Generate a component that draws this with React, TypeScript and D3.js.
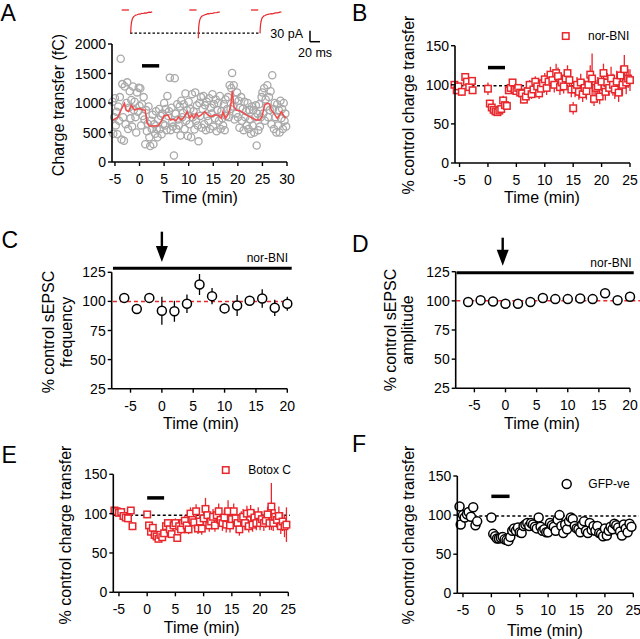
import React from "react";
import * as d3 from "d3";

const RED = "#e8262b";
const FONT = "'Liberation Sans', Arial, Helvetica, sans-serif";

// ---------------- Panel A data ----------------
const aStart = -5.5; // min, first sample
const aStep = 1 / 6; // 10-s sampling
const aCharge = [
  1020, 480, 760,
  1080, 620, 850, 470, 940, 700,
  1100, 1750, 380, 1320, 760, 360,
  1280, 640, 1000, 1350, 560, 920,
  1200, 740, 1050, 600, 1280, 880,
  1020, 760, 500, 1180, 850, 1260,
  950, 1250, 620, 980, 780, 1100,
  720, 300, 880, 520, 650, 940,
  420, 270, 700, 560, 800, 300,
  640, 480, 860, 560, 420, 720,
  900, 560, 780, 470, 820, 640,
  1000, 620, 900, 540, 1120, 780,
  860, 1430, 540, 920, 680, 600,
  110, 1420, 820, 560, 980, 720,
  620, 940, 450, 1040, 760, 830,
  980, 560, 1160, 700, 880, 440,
  1020, 640, 900, 420, 1150, 760,
  860, 550, 1180, 700, 960, 620,
  350, 1000, 780, 1100, 580, 900,
  1120, 640, 960, 540, 1020, 780,
  700, 1080, 560, 920, 820, 1150,
  600, 980, 740, 1060, 520, 880,
  1000, 700, 1120, 560, 860, 740,
  620, 980, 540, 1060, 780, 900,
  1100, 760, 1300, 900, 1250, 1510,
  940, 1300, 720, 1060, 820, 1180,
  760, 1040, 580, 920, 1100, 700,
  900, 540, 1020, 760, 860, 620,
  1000, 560, 880, 720, 480, 940,
  620, 880, 500, 760, 960, 280,
  820, 540, 980, 600, 760, 1100,
  1180, 820, 1250, 700, 1060, 940,
  1300, 760, 1100, 880, 1200, 640,
  1470, 900, 560, 1000, 760, 500,
  980, 620, 880, 500, 1040, 740,
  900, 560, 1000, 700, 820, 600,
];
const aMeanTime = [
  -5.44, -4.42, -3.6, -3.06, -2.72, -2.24, -1.7, -1.02, 0, 0.67, 1.14, 1.55, 2.03, 3.05, 3.73,
  4.4, 4.95, 5.76, 6.31, 6.78, 7.46, 7.94, 8.48, 9.02, 9.7, 10.18, 10.65, 11.06, 11.53, 12.02,
  12.55, 13.24, 13.91, 14.59, 15.27, 15.95, 16.63, 16.97, 17.44, 17.98, 18.53, 18.87, 19.21,
  19.69, 20.37, 21.04, 21.72, 22.4, 23.08, 23.75, 24.44, 24.91, 25.46, 25.99, 26.48, 26.8,
  27.35, 28.02, 28.51, 28.84, 29.39, 29.86,
];
const aMeanCharge = [
  712, 757, 910, 994, 881, 853, 966, 881, 910, 881, 881, 655, 610, 610, 610,
  684, 780, 797, 712, 723, 701, 768, 712, 757, 853, 740, 797, 740, 825, 768,
  797, 853, 797, 768, 797, 797, 740, 853, 740, 797, 938, 1209, 938,
  881, 870, 836, 797, 768, 740, 712, 712, 768, 966, 994, 983, 881,
  825, 740, 797, 853, 780, 740,
];
const aTicksX = [-5, 0, 5, 10, 15, 20, 25, 30];
const aTicksY = [0, 500, 1000, 1500, 2000];
const aDrug = [0.5, 4];
const aDrugLevel = 1630;

// example traces (ms, pA)
const traceMs = [0, 0.5, 1, 2, 3, 4, 6, 8, 10, 13, 16, 19, 22, 25, 28, 31, 34, 37, 40, 43];
const trace1 = [-63, -48, -40, -31, -26, -22, -18, -16, -14, -13, -11, -11.5, -9, -9.5, -8, -8.5, -7, -6, -6.5, -5];
const trace2 = [-77, -55, -44, -33, -27, -23, -19, -16, -15, -13, -12, -10, -10.5, -9, -9.5, -8, -7.5, -7, -6, -6];
const trace3 = [-63, -50, -41, -32, -27, -22, -19, -16, -15, -13, -12, -11, -10, -10.5, -9, -8, -8, -7, -6, -5.5];
const preMs = [-18, -3.5];

// ---------------- Panel B data ----------------
const bTime = [-5.9, -5.5, -5.2, -4.6, -4.0, -3.7, -3.3, -2.8, -2.7,
  0, 0.33, 0.67, 1, 1.33, 1.67, 2, 2.33, 2.67, 3, 3.33, 3.67, 4, 4.33, 4.67, 5, 5.33, 5.67, 6, 6.33, 6.67,
  7, 7.33, 7.67, 8, 8.33, 8.67, 9, 9.33, 9.67, 10, 10.33, 10.67, 11, 11.33, 11.67, 12, 12.33, 12.67,
  13, 13.33, 13.67, 14, 14.33, 14.67, 15, 15.33, 15.67, 16, 16.33, 16.67, 17, 17.33, 17.67, 18, 18.33,
  18.67, 19, 19.33, 19.67, 20, 20.33, 20.67, 21, 21.33, 21.67, 22, 22.33, 22.67, 23, 23.33, 23.67, 24,
  24.33, 24.67, 25];
const bValue = [100, 93, 98, 91, 110, 104, 97, 105, 93,
  95, 76, 71, 68, 66, 65, 67, 69, 80, 74, 73, 93, 96, 103, 94, 92, 96, 90, 89, 81, 85,
  92, 100, 88, 94, 104, 98, 89, 95, 102, 107, 96, 104, 113, 106, 100, 115, 111, 97,
  103, 98, 108, 115, 106, 94, 70, 94, 100, 91, 103, 88, 96, 92, 100, 113, 108,
  82, 96, 98, 85, 104, 115, 91, 103, 96, 108, 100, 94, 104, 90, 112, 100, 120,
  103, 108, 106];
const bErr = [4, 5, 3, 5, 4, 5, 3, 4, 4,
  8, 5, 5, 4, 4, 4, 4, 5, 6, 5, 5, 4, 5, 4, 5, 5, 5, 6, 5, 5, 6,
  6, 6, 6, 7, 7, 8, 7, 8, 8, 8, 9, 9, 10, 10, 10, 12, 11, 10,
  10, 9, 10, 10, 10, 10, 8, 10, 10, 10, 11, 10, 10, 11, 10, 12, 32,
  9, 10, 12, 10, 12, 12, 11, 12, 10, 15, 14, 12, 14, 12, 12, 14, 18,
  15, 12, 14];
const bxTicks = [-5, 0, 5, 10, 15, 20, 25];
const byTicks = [0, 50, 100, 150];
const bDrug = [0, 3];
const bDrugLevel = 122;

// ---------------- Panel C / D data ----------------
const cdTime = [-6, -4, -2, 0, 2, 4, 6, 8, 10, 12, 14, 16, 18, 20];
const cFreq = [103, 93.5, 103, 92, 91.5, 98, 114.5, 104.5, 94, 96.5, 100.5, 102.5, 94.5, 98];
const cFreqErr = [3, 2, 3, 12, 9, 8, 9, 7, 4, 9, 4, 8, 7, 6];
const dAmp = [99, 100.5, 99.5, 97.5, 97.5, 99, 102.5, 101.5, 101.5, 102, 101.5, 106.5, 100.5, 103.5];
const dAmpErr = [2, 2, 2, 2, 2, 2, 2, 2, 2, 2, 2, 2, 2, 2];
const cdxTicks = [-5, 0, 5, 10, 15, 20];
const cdyTicks = [25, 50, 75, 100, 125];
const cNorBni = [-7.8, 20.7];
const cRedLine = [-7.8, 20.9];
const cArrowTime = 0;
const dNorBni = [-7.85, 20.6];
const dRedLine = [-7.9, 21.6];
const dArrowTime = -0.45;

// ---------------- Panel E data ----------------
const eTime = [-5.8, -5.4, -5.0, -4.6, -4.2, -3.8, -3.4, -2.9, -2.6,
  0, 0.33, 0.67, 1, 1.33, 1.67, 2, 2.33, 2.67, 3, 3.33, 3.67, 4, 4.33, 4.67, 5, 5.33, 5.67, 6, 6.33, 6.67,
  7, 7.33, 7.67, 8, 8.33, 8.67, 9, 9.33, 9.67, 10, 10.33, 10.67, 11, 11.33, 11.67, 12, 12.33, 12.67,
  13, 13.33, 13.67, 14, 14.33, 14.67, 15, 15.33, 15.67, 16, 16.33, 16.67, 17, 17.33, 17.67, 18, 18.33,
  18.67, 19, 19.33, 19.67, 20, 20.33, 20.67, 21, 21.33, 21.67, 22, 22.33, 22.67, 23, 23.33, 23.67, 24,
  24.33, 24.67];
const eValue = [104, 103, 101, 102, 97, 95, 94, 104, 84,
  99, 85, 77, 82, 73, 71, 68, 73, 70, 75, 84, 88, 80, 74, 85, 88, 69, 84, 80, 88, 91,
  85, 80, 100, 92, 89, 103, 81, 90, 81, 94, 106, 98, 85, 90, 96, 85, 98, 103,
  92, 88, 95, 86, 103, 85, 93, 103, 94, 88, 80, 94, 96, 88, 100, 84, 101,
  86, 95, 88, 98, 88, 93, 88, 91, 99, 88, 109, 88, 96, 92, 97, 84, 90,
  84, 86];
const eErr = [4, 4, 3, 4, 4, 4, 5, 4, 5,
  3, 4, 5, 5, 5, 5, 4, 5, 5, 5, 5, 5, 5, 5, 5, 6, 5, 6, 6, 6, 7,
  6, 6, 8, 7, 8, 9, 7, 8, 8, 9, 14, 10, 8, 9, 10, 8, 10, 10,
  9, 10, 10, 10, 14, 9, 10, 10, 9, 9, 8, 9, 10, 9, 10, 8, 10,
  9, 9, 9, 10, 9, 10, 10, 9, 10, 9, 30, 10, 10, 10, 12, 10, 12,
  14, 22];
const eDrug = [0, 3];
const eDrugLevel = 120;

// ---------------- Panel F data ----------------
const fTime = [-5.6, -5.4, -5.0, -4.7, -4.3, -4.0, -3.6, -3.2, -2.8, -2.5,
  0, 0.33, 0.67, 1, 1.33, 1.67, 2, 2.33, 2.67, 3, 3.33, 3.67, 4, 4.33, 4.67, 5, 5.33, 5.67, 6, 6.33, 6.67,
  7, 7.33, 7.67, 8, 8.33, 8.67, 9, 9.33, 9.67, 10, 10.33, 10.67, 11, 11.33, 11.67, 12, 12.33, 12.67,
  13, 13.33, 13.67, 14, 14.33, 14.67, 15, 15.33, 15.67, 16, 16.33, 16.67, 17, 17.33, 17.67, 18, 18.33,
  18.67, 19, 19.33, 19.67, 20, 20.33, 20.67, 21, 21.33, 21.67, 22, 22.33, 22.67, 23, 23.33, 23.67, 24,
  24.33, 24.67];
const fValue = [111, 88, 100, 97, 101, 104, 98, 110, 87, 92,
  97, 76, 73, 70, 70, 71, 72, 69, 68, 67, 72, 80, 83, 80, 84, 78, 77, 86, 88, 90, 86,
  90, 88, 85, 83, 97, 85, 80, 82, 78, 78, 90, 87, 85, 80, 94, 100, 86, 77,
  88, 82, 92, 97, 95, 86, 83, 82, 78, 88, 92, 80, 77, 90, 81, 86, 80,
  86, 77, 76, 73, 83, 74, 80, 85, 82, 89, 87, 84, 79, 74, 88, 83, 78,
  89, 85];
const fErr = [4, 4, 3, 4, 3, 4, 4, 5, 4, 4,
  3, 3, 3, 3, 3, 3, 3, 3, 3, 4, 4, 4, 4, 4, 4, 4, 4, 4, 4, 4, 4,
  5, 4, 4, 4, 5, 4, 4, 4, 5, 4, 5, 4, 4, 4, 5, 5, 4, 4,
  4, 4, 5, 5, 5, 5, 4, 4, 4, 5, 4, 4, 5, 4, 4, 4, 5,
  4, 4, 5, 5, 4, 5, 4, 4, 4, 4, 4, 4, 5, 5, 4, 4, 5,
  4, 4];
const fDrug = [0, 3.2];
const fDrugLevel = 124;

// ---------------- helpers ----------------
type Lin = d3.ScaleLinear<number, number>;

function Axes({ x, y, xTicks, yTicks }: { x: Lin; y: Lin; xTicks: number[]; yTicks: number[] }) {
  const [x0, x1] = x.range();
  const [y0, y1] = y.range();
  return (
    <g fontFamily={FONT} fontSize={14} fill="#000">
      <line x1={x0} x2={x1} y1={y0} y2={y0} stroke="#000" strokeWidth={1.6} />
      <line x1={x0} x2={x0} y1={y0} y2={y1} stroke="#000" strokeWidth={1.6} />
      {xTicks.map((t) => (
        <g key={"x" + t}>
          <line x1={x(t)} x2={x(t)} y1={y0} y2={y0 + 4} stroke="#000" strokeWidth={1.4} />
          <text x={x(t)} y={y0 + 22} textAnchor="middle">{t}</text>
        </g>
      ))}
      {yTicks.map((v) => (
        <g key={"y" + v}>
          <line x1={x0 - 4} x2={x0} y1={y(v)} y2={y(v)} stroke="#000" strokeWidth={1.4} />
          <text x={x0 - 6} y={y(v)} dy="0.36em" textAnchor="end">{v}</text>
        </g>
      ))}
    </g>
  );
}

function YTitle({ x, y, lines }: { x: number; y: number; lines: string[] }) {
  return (
    <g>
      {lines.map((l, i) => (
        <text key={i} transform={`translate(${x + i * 17.5},${y}) rotate(-90)`} textAnchor="middle" dy="0.35em"
          fontFamily={FONT} fontSize={16}>{l}</text>
      ))}
    </g>
  );
}

function XTitle({ x, y }: { x: number; y: number }) {
  return <text x={x} y={y} dy="0.35em" textAnchor="middle" fontFamily={FONT} fontSize={16}>Time (min)</text>;
}

function Letter({ x, y, s }: { x: number; y: number; s: string }) {
  return <text x={x} y={y} fontFamily={FONT} fontSize={23}>{s}</text>;
}

function ErrPoints({ x, y, t, v, e, color, shape, size }: {
  x: Lin; y: Lin; t: number[]; v: number[]; e: number[]; color: string; shape: "square" | "circle"; size: number;
}) {
  return (
    <g>
      {t.map((ti, i) => (
        <line key={"e" + i} x1={x(ti)} x2={x(ti)} y1={y(v[i] - e[i])} y2={y(v[i] + e[i])} stroke={color} strokeWidth={1.3} />
      ))}
      {t.map((ti, i) =>
        shape === "square" ? (
          <rect key={"m" + i} x={x(ti) - size / 2} y={y(v[i]) - size / 2} width={size} height={size}
            fill="#fff" stroke={color} strokeWidth={1.5} />
        ) : (
          <circle key={"m" + i} cx={x(ti)} cy={y(v[i])} r={size / 2} fill="#fff" stroke={color} strokeWidth={1.5} />
        )
      )}
    </g>
  );
}

export default function App() {
  // Panel A scales
  const ax = d3.scaleLinear().domain([-5.6, 30]).range([112, 287]);
  const ay = d3.scaleLinear().domain([0, 2000]).range([162, 44]);
  const aTimes = aCharge.map((_, i) => aStart + i * aStep);
  const meanLine = d3.line<number>().x((_, i) => ax(aMeanTime[i])).y((d) => ay(d));

  // Trace scales
  const tY = d3.scaleLinear().domain([0, -30]).range([10, 21]);
  const traceOnsets = [130.7, 198.3, 260];
  const traces = [trace1, trace2, trace3];

  // Panel B
  const bx = d3.scaleLinear().domain([-5.8, 25]).range([455, 630]);
  const by = d3.scaleLinear().domain([0, 150]).range([163, 45.7]);
  // Panel C
  const cx = d3.scaleLinear().domain([-8, 20]).range([111.7, 287.3]);
  const cy = d3.scaleLinear().domain([25, 125]).range([388.7, 272.3]);
  // Panel D
  const dx = d3.scaleLinear().domain([-8, 20]).range([455.7, 630]);
  const dy = d3.scaleLinear().domain([25, 125]).range([388.3, 271.7]);
  // Panel E
  const ex = d3.scaleLinear().domain([-6, 25]).range([113.3, 288.3]);
  const ey = d3.scaleLinear().domain([0, 150]).range([592.3, 474.3]);
  // Panel F
  const fx = d3.scaleLinear().domain([-6, 25]).range([457.3, 633.3]);
  const fy = d3.scaleLinear().domain([0, 150]).range([593.3, 476]);

  const arrow = (x: number, top: number, tip: number) => (
    <g>
      <line x1={x} x2={x} y1={top} y2={tip - 12} stroke="#000" strokeWidth={2.4} />
      <path d={`M${x - 6},${tip - 16} L${x + 6},${tip - 16} L${x},${tip} Z`} fill="#000" />
    </g>
  );

  return (
    <svg width={640} height={639} style={{ position: "absolute", left: 0, top: 0, background: "#fff" }}>
      <rect x={0} y={0} width={640} height={639} fill="#fff" />

      {/* ---------- A ---------- */}
      <Letter x={0.5} y={21} s="A" />
      {/* traces */}
      <line x1={130} x2={260.7} y1={tY(-63)} y2={tY(-63)} stroke="#000" strokeWidth={1.1} strokeDasharray="2.5,2" />
      {traces.map((tr, k) => {
        const sx = d3.scaleLinear().domain([0, 20]).range([traceOnsets[k], traceOnsets[k] + 10]);
        const ln = d3.line<number>().x((_, i) => sx(traceMs[i])).y((d) => tY(d));
        return (
          <g key={k}>
            <line x1={sx(preMs[0])} x2={sx(preMs[1])} y1={tY(0)} y2={tY(0)} stroke={RED} strokeWidth={1.3} />
            <path d={ln(tr) || ""} fill="none" stroke={RED} strokeWidth={1.2} />
          </g>
        );
      })}
      <line x1={310} x2={310} y1={30.7} y2={41.7} stroke="#000" strokeWidth={1.5} />
      <line x1={310} x2={320} y1={41.7} y2={41.7} stroke="#000" strokeWidth={1.5} />
      <text x={303} y={33.5} dy="0.35em" textAnchor="end" fontFamily={FONT} fontSize={12.5}>30 pA</text>
      <text x={298} y={52.5} dy="0.35em" fontFamily={FONT} fontSize={12.5}>20 ms</text>

      {aCharge.map((v, i) => (
        <circle key={i} cx={ax(aTimes[i])} cy={ay(v)} r={3.6} fill="none" stroke="#a9a9a9" strokeWidth={1.3} />
      ))}
      <path d={meanLine(aMeanCharge) || ""} fill="none" stroke="#f24b4b" strokeWidth={1.5} />
      <line x1={ax(aDrug[0])} x2={ax(aDrug[1])} y1={ay(aDrugLevel)} y2={ay(aDrugLevel)} stroke="#000" strokeWidth={3.5} />
      <Axes x={ax} y={ay} xTicks={aTicksX} yTicks={aTicksY} />
      <YTitle x={58} y={105} lines={["Charge transfer (fC)"]} />
      <XTitle x={200} y={197} />

      {/* ---------- B ---------- */}
      <Letter x={352} y={21} s="B" />
      <line x1={bx(-5.8)} x2={bx(25)} y1={by(98.7)} y2={by(98.7)} stroke="#000" strokeWidth={1.5} strokeDasharray="3,2.5" />
      <ErrPoints x={bx} y={by} t={bTime} v={bValue} e={bErr} color={RED} shape="square" size={6.5} />
      <line x1={bx(bDrug[0])} x2={bx(bDrug[1])} y1={by(bDrugLevel)} y2={by(bDrugLevel)} stroke="#000" strokeWidth={3.5} />
      <Axes x={bx} y={by} xTicks={bxTicks} yTicks={byTicks} />
      <rect x={562.5} y={32.8} width={6.5} height={6.5} fill="#fff" stroke={RED} strokeWidth={1.5} />
      <text x={588} y={36} dy="0.35em" fontFamily={FONT} fontSize={12}>nor-BNI</text>
      <YTitle x={408} y={105} lines={["% control charge transfer"]} />
      <XTitle x={542} y={197} />

      {/* ---------- C ---------- */}
      <Letter x={1.5} y={248} s="C" />
      {arrow(cx(cArrowTime), 231.7, 262)}
      <line x1={cx(cNorBni[0])} x2={cx(cNorBni[1])} y1={268.3} y2={268.3} stroke="#000" strokeWidth={3} />
      <text x={288} y={257.7} dy="0.35em" textAnchor="end" fontFamily={FONT} fontSize={12}>nor-BNI</text>
      <line x1={cx(cRedLine[0])} x2={cx(cRedLine[1])} y1={cy(100)} y2={cy(100)} stroke={RED} strokeWidth={1.5} strokeDasharray="4,3" />
      <ErrPoints x={cx} y={cy} t={cdTime} v={cFreq} e={cFreqErr} color="#000" shape="circle" size={9} />
      <Axes x={cx} y={cy} xTicks={cdxTicks} yTicks={cdyTicks} />
      <YTitle x={48.5} y={332} lines={["% control sEPSC", "frequency"]} />
      <XTitle x={201} y={423} />

      {/* ---------- D ---------- */}
      <Letter x={352} y={252} s="D" />
      {arrow(dx(dArrowTime), 237.7, 265.7)}
      <line x1={dx(dNorBni[0])} x2={dx(dNorBni[1])} y1={272.7} y2={272.7} stroke="#000" strokeWidth={3} />
      <text x={631.7} y={262.7} dy="0.35em" textAnchor="end" fontFamily={FONT} fontSize={12}>nor-BNI</text>
      <line x1={dx(dRedLine[0])} x2={dx(dRedLine[1])} y1={dy(100)} y2={dy(100)} stroke={RED} strokeWidth={1.5} strokeDasharray="4,3" />
      <ErrPoints x={dx} y={dy} t={cdTime} v={dAmp} e={dAmpErr} color="#000" shape="circle" size={9} />
      <Axes x={dx} y={dy} xTicks={cdxTicks} yTicks={cdyTicks} />
      <YTitle x={390} y={330} lines={["% control sEPSC", "amplitude"]} />
      <XTitle x={542} y={423} />

      {/* ---------- E ---------- */}
      <Letter x={1.5} y={463} s="E" />
      <line x1={ex(-6)} x2={ex(25.3)} y1={ey(98)} y2={ey(98)} stroke="#000" strokeWidth={1.5} strokeDasharray="3,2.5" />
      <ErrPoints x={ex} y={ey} t={eTime} v={eValue} e={eErr} color={RED} shape="square" size={6.5} />
      <line x1={ex(eDrug[0])} x2={ex(eDrug[1])} y1={ey(eDrugLevel)} y2={ey(eDrugLevel)} stroke="#000" strokeWidth={3.5} />
      <Axes x={ex} y={ey} xTicks={bxTicks} yTicks={byTicks} />
      <rect x={222.5} y={466.8} width={6.5} height={6.5} fill="#fff" stroke={RED} strokeWidth={1.5} />
      <text x={248.3} y={470} dy="0.35em" fontFamily={FONT} fontSize={12}>Botox C</text>
      <YTitle x={65} y={535} lines={["% control charge transfer"]} />
      <XTitle x={201.7} y={627.7} />

      {/* ---------- F ---------- */}
      <Letter x={352} y={452} s="F" />
      <line x1={fx(-6)} x2={fx(26)} y1={fy(99)} y2={fy(99)} stroke="#000" strokeWidth={1.5} strokeDasharray="3,2.5" />
      <ErrPoints x={fx} y={fy} t={fTime} v={fValue} e={fErr} color="#000" shape="circle" size={9} />
      <line x1={fx(fDrug[0])} x2={fx(fDrug[1])} y1={fy(fDrugLevel)} y2={fy(fDrugLevel)} stroke="#000" strokeWidth={3.5} />
      <Axes x={fx} y={fy} xTicks={bxTicks} yTicks={byTicks} />
      <circle cx={566.7} cy={484} r={4.5} fill="#fff" stroke="#000" strokeWidth={1.5} />
      <text x={588.3} y={484} dy="0.35em" fontFamily={FONT} fontSize={12}>GFP-ve</text>
      <YTitle x={408.3} y={535} lines={["% control charge transfer"]} />
      <XTitle x={545} y={630} />
    </svg>
  );
}
